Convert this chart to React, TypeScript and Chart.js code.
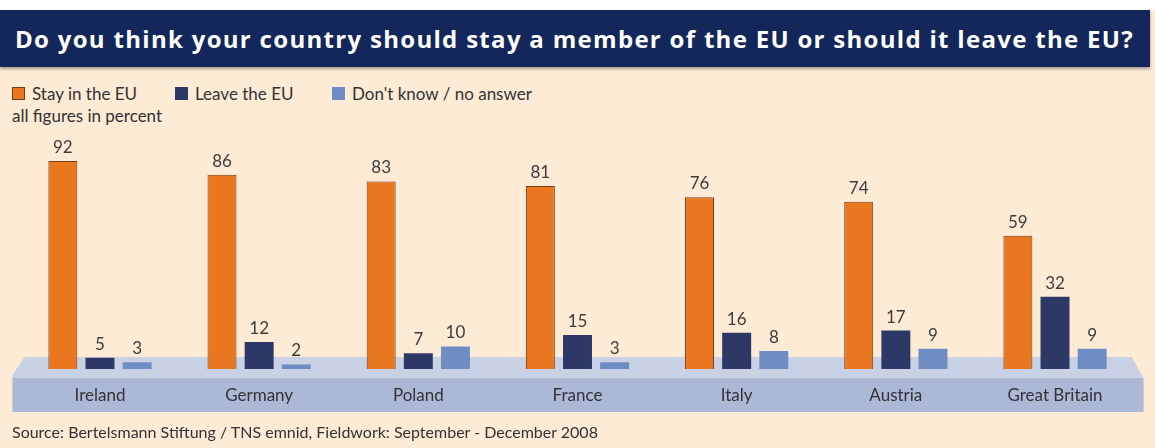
import React, { useEffect, useRef } from "react";
import { Chart, registerables } from "chart.js";

Chart.register(...registerables);

const categories = ["Ireland", "Germany", "Poland", "France", "Italy", "Austria", "Great Britain"];
const stayValues = [92, 86, 83, 81, 76, 74, 59];
const leaveValues = [5, 12, 7, 15, 16, 17, 32];
const dontKnowValues = [3, 2, 10, 3, 8, 9, 9];
const seriesNames = ["Stay in the EU", "Leave the EU", "Don't know / no answer"];
const seriesColors = ["#E8771F", "#2D3867", "#6F8CC3"];

const TEXT_FONT = "Lato, 'Open Sans', sans-serif";

const slabPlugin = {
  id: "slab",
  beforeDraw(chart: any) {
    const { ctx, chartArea } = chart;
    const yb = chart.scales.y.getPixelForValue(0);
    const L = chartArea.left;
    const R = chartArea.right;
    ctx.save();
    // top surface
    ctx.fillStyle = "#C9D1E4";
    ctx.beginPath();
    ctx.moveTo(L + 4, yb - 12);
    ctx.lineTo(R - 3, yb - 12);
    ctx.lineTo(R + 9, yb + 9);
    ctx.lineTo(L - 8, yb + 9);
    ctx.lineTo(L - 8, yb + 6);
    ctx.closePath();
    ctx.fill();
    // front face
    ctx.fillStyle = "#ABB9D7";
    ctx.fillRect(L - 8, yb + 9, R - L + 17, 34);
    ctx.restore();
  },
};

const valueLabelPlugin = {
  id: "valueLabels",
  afterDatasetsDraw(chart: any) {
    const { ctx } = chart;
    ctx.save();
    ctx.font = `17px ${TEXT_FONT}`;
    ctx.fillStyle = "#3C3C3C";
    ctx.textAlign = "center";
    ctx.textBaseline = "alphabetic";
    chart.data.datasets.forEach((ds: any, di: number) => {
      const meta = chart.getDatasetMeta(di);
      meta.data.forEach((bar: any, i: number) => {
        ctx.fillText(String(ds.data[i]), bar.x, bar.y - 8);
      });
    });
    ctx.restore();
  },
};

export default function App() {
  const canvasRef = useRef<HTMLCanvasElement | null>(null);

  useEffect(() => {
    document.body.style.margin = "0";
    const canvas = canvasRef.current;
    if (!canvas) return;
    const chart = new Chart(canvas, {
      type: "bar",
      data: {
        labels: categories,
        datasets: [
          {
            label: seriesNames[0],
            data: stayValues,
            backgroundColor: seriesColors[0],
            borderColor: "#7A3A14",
            borderWidth: 1,
          },
          {
            label: seriesNames[1],
            data: leaveValues,
            backgroundColor: seriesColors[1],
            borderWidth: 0,
          },
          {
            label: seriesNames[2],
            data: dontKnowValues,
            backgroundColor: seriesColors[2],
            borderWidth: 0,
          },
        ],
      },
      options: {
        animation: false,
        responsive: false,
        maintainAspectRatio: false,
        datasets: {
          bar: { categoryPercentage: 0.7, barPercentage: 0.78 },
        },
        layout: { padding: { left: 20.4, right: 20.4, top: 143, bottom: 26.6 } },
        plugins: {
          legend: { display: false },
          tooltip: { enabled: false },
          title: { display: false },
        },
        scales: {
          x: {
            grid: { display: false, drawTicks: false },
            border: { display: false },
            ticks: {
              padding: 16,
              color: "#333333",
              font: { family: TEXT_FONT, size: 17 },
            },
          },
          y: {
            display: false,
            min: 0,
            max: 100,
          },
        },
      },
      plugins: [slabPlugin, valueLabelPlugin],
    });
    return () => chart.destroy();
  }, []);

  const legendItem = (i: number, left: number) => (
    <div
      key={i}
      style={{ position: "absolute", left, top: 82, display: "flex", alignItems: "center", height: 22 }}
    >
      <span
        style={{
          display: "inline-block",
          width: 13,
          height: 13,
          background: seriesColors[i],
          border: i === 0 ? "1px solid #7A3A14" : "none",
          boxSizing: "border-box",
          marginRight: 7,
        }}
      />
      <span style={{ fontSize: 17, color: "#333" }}>{seriesNames[i]}</span>
    </div>
  );

  return (
    <div
      style={{
        position: "relative",
        width: 1155,
        height: 448,
        background: "#FDEBD6",
        overflow: "hidden",
        fontFamily: TEXT_FONT,
      }}
    >
      <div style={{ position: "absolute", left: 0, top: 0, width: 1155, height: 10, background: "#FFFFFF" }} />
      <div
        style={{
          position: "absolute",
          left: 0,
          top: 10,
          width: 1150,
          height: 57,
          background: "#13275A",
          boxShadow: "0 2px 3px rgba(0,0,0,0.35)",
          color: "#FFFFFF",
          fontFamily: "'Open Sans', sans-serif",
          fontWeight: 700,
          fontSize: 24,
          letterSpacing: "1.3px",
          lineHeight: "57px",
          paddingLeft: 15,
          boxSizing: "border-box",
          whiteSpace: "nowrap",
        }}
      >
        Do you think your country should stay a member of the EU or should it leave the EU?
      </div>
      {legendItem(0, 12)}
      {legendItem(1, 175)}
      {legendItem(2, 332)}
      <div style={{ position: "absolute", left: 12, top: 105, fontSize: 17, color: "#333" }}>
        all figures in percent
      </div>
      <canvas
        ref={canvasRef}
        width={1155}
        height={448}
        style={{ position: "absolute", left: 0, top: 0, width: 1155, height: 448 }}
      />
      <div style={{ position: "absolute", left: 12, top: 422, fontSize: 16, color: "#333", whiteSpace: "nowrap" }}>
        Source: Bertelsmann Stiftung / TNS emnid, Fieldwork: September - December 2008
      </div>
    </div>
  );
}
